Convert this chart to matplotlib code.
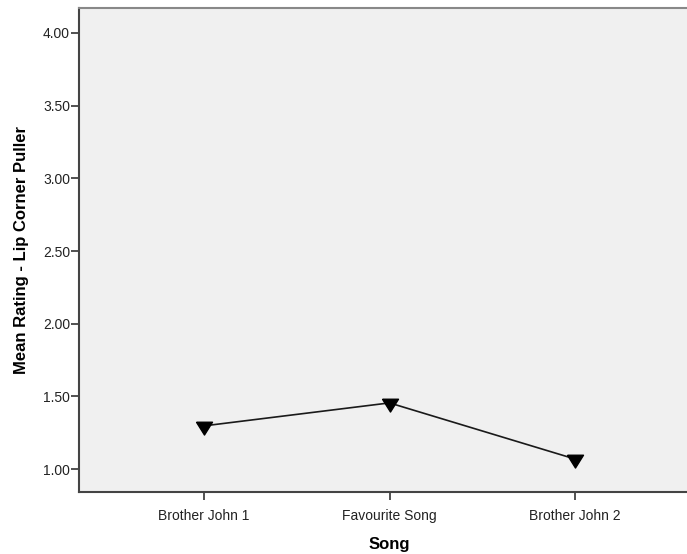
import matplotlib
matplotlib.use("Agg")
import matplotlib.pyplot as plt
import numpy as np

songs = ["Brother John 1", "Favourite Song", "Brother John 2"]
mean_rating = [1.297, 1.455, 1.069]
y_ticks = [1.00, 1.50, 2.00, 2.50, 3.00, 3.50, 4.00]

plt.rcParams["font.family"] = ["Liberation Sans", "DejaVu Sans"]

# downward triangle with its centroid at the origin (line meets the centroid)
tri = [(-1.0, 0.533), (1.0, 0.533), (0.0, -1.067), (-1.0, 0.533)]

fig = plt.figure(figsize=(6.87, 5.54), dpi=100)
ax = fig.add_axes([79 / 687, 62 / 554, 621 / 687, 484 / 554])
ax.set_facecolor("#f0f0f0")

x = np.arange(len(songs))
ax.plot(x, mean_rating, color="#1a1a1a", linewidth=1.2, zorder=2)
ax.plot(x, mean_rating, linestyle="none", marker=tri, markersize=12.3,
        color="black", zorder=3)

ax.set_xlim(-0.674, 2.674)
ax.set_ylim(0.842, 4.172)
ax.set_xticks(x)
ax.set_xticklabels(songs)
ax.set_yticks(y_ticks)
ax.set_yticklabels([f"{v:.2f}" for v in y_ticks])
ax.tick_params(axis="both", direction="out", length=6, width=1.2,
               color="#333333", labelsize=10, labelcolor="#222222", pad=0.5)
ax.tick_params(axis="x", pad=6)

for side in ["left", "bottom"]:
    ax.spines[side].set_color("#444444")
    ax.spines[side].set_linewidth(1.5)
ax.spines["top"].set_color("#888888")
ax.spines["top"].set_linewidth(1.5)
ax.spines["right"].set_visible(False)

ax.set_xlabel("Song", fontsize=12, fontweight="bold", labelpad=10)
ax.set_ylabel("Mean Rating - Lip Corner Puller", fontsize=12,
              fontweight="bold", labelpad=10)

fig.savefig("out.png", dpi=100, facecolor="white")
